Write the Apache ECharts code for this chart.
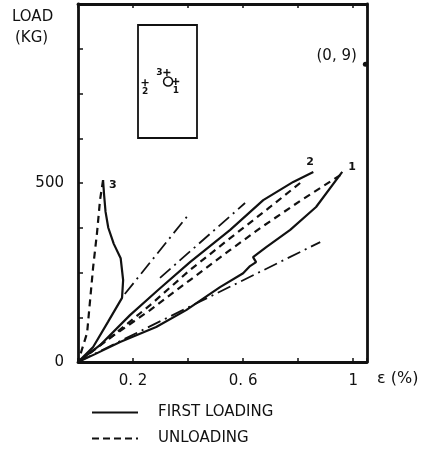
<!DOCTYPE html>
<html><head><meta charset="utf-8">
<script src="https://cdn.jsdelivr.net/npm/echarts@6/dist/echarts.min.js"></script>
<style>html,body{margin:0;padding:0;background:#fff}#c{width:430px;height:452px}</style>
</head><body><div id="c"></div>
<script>
// strain (%) , load (kg)
const curve1Loading = [[0,0],[0.062,22],[0.153,56],[0.284,98],[0.393,145],[0.516,209],[0.6,248],[0.625,268],[0.647,279],[0.636,293],[0.684,321],[0.771,369],[0.865,433],[0.96,531]];
const curve1Unloading = [[0.953,522],[0.807,450],[0.662,374],[0.553,313],[0.407,229],[0.262,145],[0.116,67],[0,0]];
const curve2Loading = [[0,0],[0.08,47],[0.189,131],[0.291,201],[0.407,279],[0.553,369],[0.673,452],[0.782,503],[0.855,531]];
const curve2Unloading = [[0.807,500],[0.698,433],[0.553,346],[0.407,257],[0.262,159],[0.116,67],[0,0]];
const curve3Loading = [[0,0],[0.055,42],[0.109,112],[0.16,179],[0.164,229],[0.155,290],[0.13,330],[0.11,375],[0.1,420],[0.095,465],[0.091,508]];
const curve3Unloading = [[0.091,508],[0.08,452],[0.069,360],[0.055,265],[0.044,173],[0.033,81],[0,0]];
const ref1 = [[0,0],[0.88,335]];
const ref2 = [[0.298,235],[0.607,444]];
const ref3 = [[0.17,190],[0.4,410]];
const xTicks = ['0. 2','0. 6','1'];
const yTicks = ['0','500'];
const specialPoint = [[1.044,832]];
const specialLabel = '(0, 9)';
const insetGauges = [[0.49,0.58,'3','left'],[0.64,0.50,'1','bottom'],[0.12,0.49,'2','bottom']];
const insetLoad = [[0.51,0.50]];

const FONT = 'DejaVu Sans';
const K = '#111';
const plus = 'path://M4,0 L6,0 L6,4 L10,4 L10,6 L6,6 L6,10 L4,10 L4,6 L0,6 L0,4 L4,4 Z';
const solidIcon = 'path://M0,0h46v2h-46z';
const dashIcon = 'path://M0,0h7v2h-7z M11,0h7v2h-7z M22,0h7v2h-7z M33,0h7v2h-7z M44,0h2v2h-2z';
const chart = echarts.init(document.getElementById('c'), null, {renderer:'canvas'});
const solid = {color:K, width:2.2};
const dashed = {color:K, width:2.2, type:[7,5]};
const dashdot = {color:K, width:1.8, type:[14,5,2,5]};
function line(name, data, ls, extra){
  return Object.assign({type:'line', name, data, xAxisIndex:0, yAxisIndex:0, showSymbol:false, symbol:'none', lineStyle:ls, itemStyle:{color:K}, silent:true, animation:false, z:3}, extra||{});
}
function endLab(txt, off){
  return {endLabel:{show:true, formatter:txt, color:K, fontFamily:FONT, fontWeight:'bold', fontSize:11, offset:off||[0,0]}};
}
const legendText = {color:K, fontFamily:FONT, fontSize:15, padding:[0,0,0,15]};
chart.setOption({
  animation:false,
  backgroundColor:'#fff',
  grid:[{left:78, top:4, right:63, bottom:90, show:false},
        {left:138, top:25, width:59, height:113, show:true, borderColor:K, borderWidth:1.8, backgroundColor:'transparent'}],
  xAxis:[
    {type:'value', gridIndex:0, min:0, max:1.05, interval:0.2,
     axisLine:{show:true, onZero:false, lineStyle:{color:K, width:2.8}},
     axisTick:{show:true, inside:true, length:4, lineStyle:{color:K, width:1.5}},
     splitLine:{show:false},
     axisLabel:{color:K, fontFamily:FONT, fontSize:15, margin:12,
       formatter:v=>{const i=Math.round(v*10); return i===2?xTicks[0]:i===6?xTicks[1]:i===10?xTicks[2]:'';}}},
    {type:'value', gridIndex:0, position:'top', min:0, max:1.05, interval:0.2,
     axisLine:{show:true, onZero:false, lineStyle:{color:K, width:2.8}},
     axisTick:{show:true, inside:true, length:4, lineStyle:{color:K, width:1.5}},
     axisLabel:{show:false}, splitLine:{show:false}},
    {type:'value', gridIndex:1, min:0, max:1, show:false}
  ],
  yAxis:[
    {type:'value', gridIndex:0, min:0, max:1000, interval:125,
     axisLine:{show:true, onZero:false, lineStyle:{color:K, width:2.8}},
     axisTick:{show:true, inside:true, length:5, lineStyle:{color:K, width:1.5}},
     splitLine:{show:false},
     axisLabel:{color:K, fontFamily:FONT, fontSize:15, margin:14,
       formatter:v=>v===0?yTicks[0]:v===500?yTicks[1]:''}},
    {type:'value', gridIndex:0, position:'right', min:0, max:1000, interval:125,
     axisLine:{show:true, onZero:false, lineStyle:{color:K, width:2.8}},
     axisTick:{show:false}, axisLabel:{show:false}, splitLine:{show:false}},
    {type:'value', gridIndex:1, min:0, max:1, show:false}
  ],
  legend:[
    {left:92, top:405, padding:0, itemWidth:46, itemHeight:2, selectedMode:false,
     data:[{name:'FIRST LOADING', icon:solidIcon}], textStyle:legendText},
    {left:92, top:431, padding:0, itemWidth:46, itemHeight:2, selectedMode:false,
     data:[{name:'UNLOADING', icon:dashIcon}], textStyle:legendText}
  ],
  graphic:[
    {type:'text', left:12, top:10, style:{text:'LOAD', fill:K, font:'15px "DejaVu Sans"'}},
    {type:'text', left:15, top:31, style:{text:'(KG)', fill:K, font:'15px "DejaVu Sans"'}},
    {type:'text', left:377, top:371, style:{text:'ε (%)', fill:K, font:'16px "DejaVu Sans"'}}
  ],
  series:[
    line('FIRST LOADING', curve1Loading, solid, endLab('1',[-2,-5])),
    line('UNLOADING', curve1Unloading, dashed),
    line('FIRST LOADING', curve2Loading, solid, endLab('2',[-15,-10])),
    line('UNLOADING', curve2Unloading, dashed),
    line('FIRST LOADING', curve3Loading, solid, endLab('3',[-2,5])),
    line('UNLOADING', curve3Unloading, dashed),
    line('ref1', ref1, dashdot),
    line('ref2', ref2, dashdot),
    line('ref3', ref3, dashdot),
    {type:'scatter', xAxisIndex:0, yAxisIndex:0, data:specialPoint, symbol:'circle', symbolSize:5,
     itemStyle:{color:K, opacity:1}, silent:true,
     label:{show:true, position:'left', distance:6, offset:[0,-8], formatter:specialLabel, color:K, fontFamily:FONT, fontSize:15}},
    {type:'scatter', xAxisIndex:2, yAxisIndex:2,
     data:insetGauges.map(d=>({value:[d[0],d[1],d[2]], label:{position:d[3]}})), symbol:plus, symbolSize:7,
     itemStyle:{color:K, opacity:1}, silent:true,
     label:{show:true, formatter:p=>p.value[2], color:K, fontFamily:FONT, fontWeight:'bold', fontSize:9, distance:1}},
    {type:'scatter', xAxisIndex:2, yAxisIndex:2, data:insetLoad, symbol:'circle', symbolSize:9,
     itemStyle:{color:'#fff', borderColor:K, borderWidth:1.5, opacity:1}, silent:true}
  ]
});
</script></body></html>
